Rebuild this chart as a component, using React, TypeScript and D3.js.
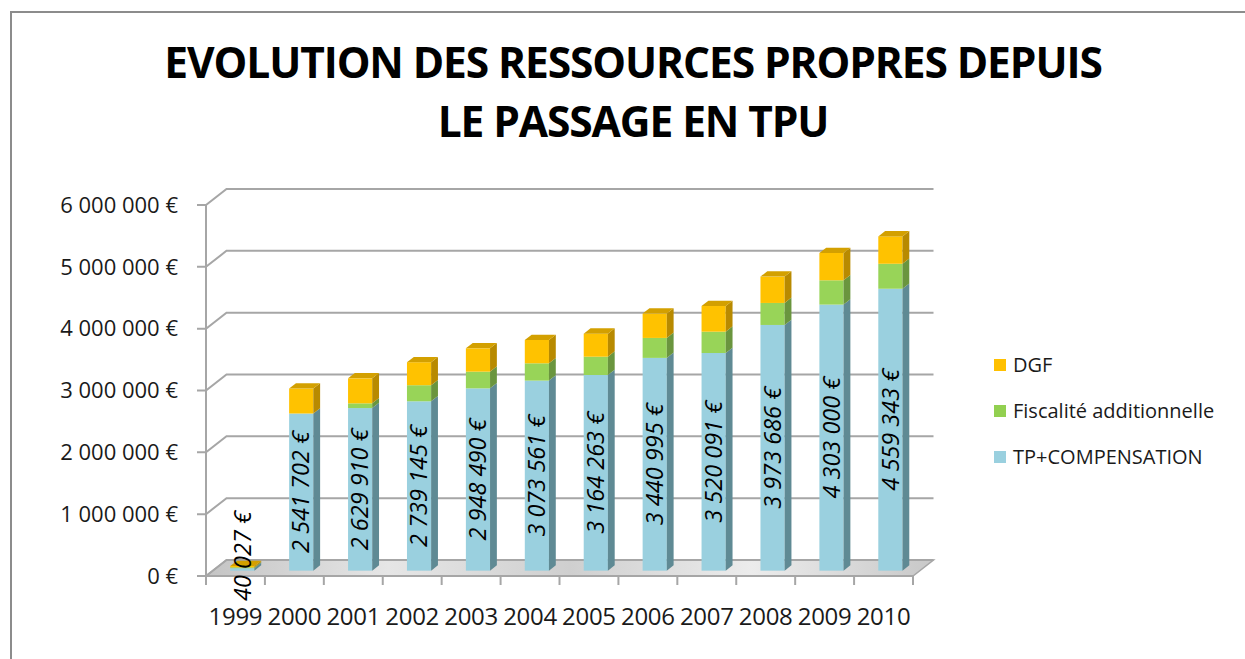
import React from "react";
import * as d3 from "d3";

const years = ["1999","2000","2001","2002","2003","2004","2005","2006","2007","2008","2009","2010"];
const tpCompensation = [40027, 2541702, 2629910, 2739145, 2948490, 3073561, 3164263, 3440995, 3520091, 3973686, 4303000, 4559343];
const fiscaliteAdd = [15000, 0, 76000, 260000, 270000, 280000, 296000, 323000, 345000, 356000, 393000, 404000];
const dgf = [20000, 404000, 404000, 372000, 377000, 377000, 372000, 394000, 415000, 426000, 442000, 442000];
const yTicks = [0, 1000000, 2000000, 3000000, 4000000, 5000000, 6000000];
const seriesNames = ["TP+COMPENSATION", "Fiscalité additionnelle", "DGF"];
const titleLines = ["EVOLUTION DES RESSOURCES PROPRES DEPUIS", "LE PASSAGE EN TPU"];

const W = 1245, H = 659;
const FONT = "'Open Sans', 'DejaVu Sans', sans-serif";
const colors = [
  { front: "#9AD0DF", side: "#5F8A94", top: "#B5DDE8" },
  { front: "#98D458", side: "#6A953E", top: "#AEDD7E" },
  { front: "#FFC200", side: "#B88A00", top: "#D3A000" },
];
const legendColors = ["#9AD0DF", "#92D050", "#FFC000"];

const fmt = (v: number) => {
  const s = d3.format(",")(v).replace(/,/g, " ");
  return s + " €";
};

export default function App() {
  const left = 206, right = 913;
  const y = d3.scaleLinear().domain([0, 6000000]).range([576, 205]);
  const x = d3.scaleBand<string>().domain(years).range([left, right]).paddingInner(0).paddingOuter(0);
  const ddx = 20.5, ddy = -16; // depth vector
  const bw = x.bandwidth() * 0.41;
  const bdx = ddx / 3, bdy = ddy / 3;

  const stacks = years.map((yr, i) => {
    const vals = [tpCompensation[i], fiscaliteAdd[i], dgf[i]];
    let acc = 0;
    return vals.map((v, s) => {
      const seg = { s, y0: acc, y1: acc + v };
      acc += v;
      return seg;
    });
  });

  return (
    <div style={{ position: "fixed", left: 0, top: 0 }}>
      <svg width={W} height={H} style={{ display: "block", background: "#fff" }}>
        <defs>
          <linearGradient id="floorG" x1="0" y1="0" x2="1" y2="0">
            <stop offset="0" stopColor="#c4c4c4" />
            <stop offset="0.25" stopColor="#e6e6e6" />
            <stop offset="0.5" stopColor="#cfcfcf" />
            <stop offset="0.75" stopColor="#ececec" />
            <stop offset="1" stopColor="#c8c8c8" />
          </linearGradient>
        </defs>
        {/* outer frame */}
        <path d={`M11,${H + 5} V12 H${W + 5}`} fill="none" stroke="#8c8c8c" strokeWidth={2} />
        {/* title */}
        {titleLines.map((t, i) => (
          <text key={i} x={633} y={78 + i * 59} textAnchor="middle" fontFamily={FONT} fontWeight={700}
            fontSize={42.5} letterSpacing={-1.1} fill="#000">{t}</text>
        ))}
        {/* floor */}
        <path d={`M${left},${y(0)} L${right},${y(0)} L${right + ddx},${y(0) + ddy} L${left + ddx},${y(0) + ddy} Z`}
          fill="url(#floorG)" stroke="#a6a6a6" strokeWidth={1.5} />
        {/* gridlines */}
        {yTicks.map((t) => (
          <g key={t} fill="none" stroke="#a6a6a6" strokeWidth={2}>
            <path d={`M${left - 9},${y(t)} L${left},${y(t)} L${left + ddx},${y(t) + ddy} L${right + ddx},${y(t) + ddy}`} />
          </g>
        ))}
        {/* axes */}
        <line x1={left} x2={left} y1={y(6000000)} y2={y(0) + 9} stroke="#a6a6a6" strokeWidth={2} />
        <line x1={left} x2={right} y1={y(0)} y2={y(0)} stroke="#a6a6a6" strokeWidth={2} />
        {years.map((yr) => (
          <line key={yr} x1={(x(yr) as number)} x2={(x(yr) as number)} y1={y(0)} y2={y(0) + 9} stroke="#a6a6a6" strokeWidth={2} />
        ))}
        <line x1={right} x2={right} y1={y(0)} y2={y(0) + 9} stroke="#a6a6a6" strokeWidth={2} />
        {/* y labels */}
        {yTicks.map((t) => (
          <text key={t} x={178} y={y(t)} dy="0.35em" textAnchor="end" fontFamily={FONT} fontSize={22} fill="#1a1a1a">{fmt(t)}</text>
        ))}
        {/* x labels */}
        {years.map((yr) => (
          <text key={yr} x={(x(yr) as number) + x.bandwidth() / 2} y={617} dy="0.35em" textAnchor="middle"
            fontFamily={FONT} fontSize={24} letterSpacing={-0.3} fill="#1a1a1a">{yr}</text>
        ))}
        {/* bars */}
        {years.map((yr, i) => {
          const bx = (x(yr) as number) + (x.bandwidth() - bw) / 2 + bdx;
          const segs = stacks[i];
          const topVal = segs[segs.length - 1].y1;
          return (
            <g key={yr}>
              {segs.map((sg) => {
                if (sg.y1 - sg.y0 <= 0) return null;
                const yt = y(sg.y1) + bdy, yb = y(sg.y0) + bdy;
                const c = colors[sg.s];
                return (
                  <g key={sg.s}>
                    <rect x={bx} y={yt} width={bw} height={yb - yt} fill={c.front} />
                    <path d={`M${bx + bw},${yb} L${bx + bw + bdx},${yb + bdy} L${bx + bw + bdx},${yt + bdy} L${bx + bw},${yt} Z`} fill={c.side} />
                  </g>
                );
              })}
              {(() => {
                const last = [...segs].reverse().find((s) => s.y1 - s.y0 > 0)!;
                const yt = y(topVal) + bdy;
                return (
                  <path d={`M${bx},${yt} L${bx + bw},${yt} L${bx + bw + bdx},${yt + bdy} L${bx + bdx},${yt + bdy} Z`}
                    fill={colors[last.s].top} />
                );
              })()}
            </g>
          );
        })}
        {/* data labels */}
        {years.map((yr, i) => {
          const cx = (x(yr) as number) + x.bandwidth() / 2 + bdx;
          const cy = (y(0) + y(tpCompensation[i])) / 2 + bdy;
          const cyy = Math.min(cy, y(0) - 20);
          return (
            <text key={yr} transform={`translate(${cx},${cyy}) rotate(-90)`} textAnchor="middle" dy="0.35em"
              fontFamily={FONT} fontStyle="italic" fontWeight={500} fontSize={23.5} fill="#000">{fmt(tpCompensation[i])}</text>
          );
        })}
        {/* legend */}
        {[2, 1, 0].map((s, k) => (
          <g key={s} transform={`translate(994,${365 + k * 46})`}>
            <rect x={0} y={-6} width={12} height={12} fill={legendColors[s]} />
            <text x={19} y={0} dy="0.35em" fontFamily={FONT} fontSize={20} fill="#1a1a1a">{seriesNames[s]}</text>
          </g>
        ))}
      </svg>
    </div>
  );
}
